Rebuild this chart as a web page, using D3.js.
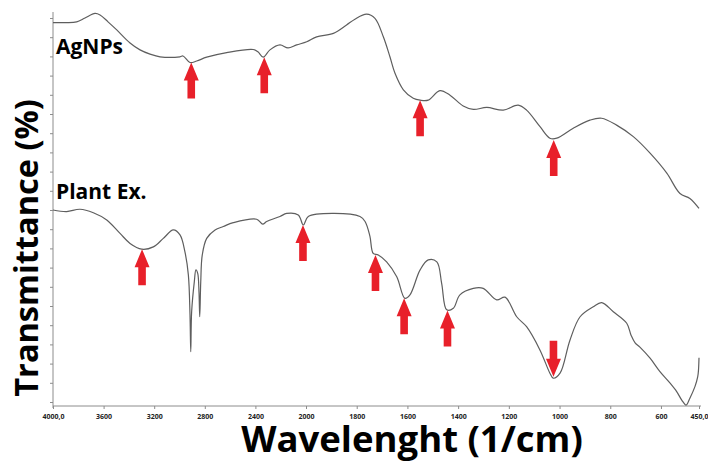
<!DOCTYPE html>
<html>
<head>
<meta charset="utf-8">
<script src="https://cdn.jsdelivr.net/npm/d3@7"></script>
<style>
  html, body { margin: 0; padding: 0; background: #fff; }
  svg { display: block; }
</style>
</head>
<body>
<div id="chart"></div>
<script>
// ---- data (wavenumber in 1/cm, transmittance in arbitrary %) ----
const agWavenumber = [4000,3897,3813,3747,3668,3628,3565,3496,3391,3312,3233,3154,2996,2972,2917,2864,2785,2627,2417,2380,2338,2285,2206,2142,2074,1997,1958,1892,1840,1807,1761,1728,1695,1669,1649,1616,1577,1550,1518,1472,1432,1380,1340,1287,1222,1163,1130,1077,1038,1011,946,880,834,775,709,643,577,525,486,450];
const agTransmittance = [98.8,98.8,99.0,100.0,101.2,100.8,99.0,96.9,93.5,91.7,90.6,89.9,89.9,90.1,88.4,88.8,89.8,91.0,91.8,91.2,89.8,91.7,93.0,92.2,93.0,93.8,95.1,96.0,98.2,99.7,101.0,99.9,95.1,89.9,85.6,81.3,79.1,78.6,78.6,81.1,79.9,77.1,76.2,76.7,76.0,77.3,76.0,71.7,68.7,68.7,71.3,73.4,73.9,72.1,69.1,64.8,59.6,54.3,53.0,50.4];

const plantWavenumber = [4000,3892,3787,3681,3575,3470,3391,3299,3207,3128,3049,2996,2957,2930,2917,2911,2904,2883,2870,2856,2846,2840,2832,2820,2785,2719,2654,2575,2390,2342,2311,2206,2153,2061,2021,1991,1892,1787,1767,1748,1735,1715,1682,1642,1610,1590,1550,1518,1484,1465,1445,1419,1393,1340,1301,1248,1215,1169,1130,1077,1038,1025,998,959,919,867,834,788,735,718,702,683,643,604,564,538,518,501,486,466,455,452,450];
const plantTransmittance = [50.0,49.6,50.2,49.3,47.4,43.9,41.3,39.8,40.4,42.6,44.8,43.5,39.1,33.1,22.7,13.1,23.5,31.3,34.4,33.5,28.7,22.2,31.3,38.3,42.6,44.8,45.7,46.7,47.6,46.3,47.0,48.3,49.1,48.7,46.1,48.3,49.1,48.3,47.0,43.2,38.7,38.3,36.5,32.6,27.0,27.9,34.4,37.0,36.5,30.9,24.0,24.4,27.9,29.6,29.6,26.6,27.3,22.2,19.6,13.5,7.5,6.2,7.5,16.1,22.2,24.8,25.9,23.5,20.5,17.4,15.4,14.3,11.4,7.9,4.9,2.7,0.5,-0.8,1.0,4.0,6.6,8.3,11.5];

// arrows: wavenumber, transmittance at tip, direction
const agArrowWavenumber = [2907, 2330, 1550, 1023];
const agArrowTip = [88.4, 89.8, 78.6, 68.2];
const plantArrowWavenumber = [3296, 2024, 1726, 1613, 1442, 1024];
const plantArrowTip = [39.8, 46.1, 38.3, 27.0, 23.8, 6.6];
const plantArrowDir = ["up", "up", "up", "up", "up", "down"];

const xTickValues = [4000,3600,3200,2800,2400,2000,1800,1600,1400,1200,1000,800,600,450];
const xTickLabels = ["4000,0","3600","3200","2800","2400","2000","1800","1600","1400","1200","1000","800","600","450,0"];
const yTickValues = d3.range(0, 101, 5);

const seriesLabels = ["AgNPs", "Plant Ex."];
const xTitle = "Wavelenght (1/cm)";
const yTitle = "Transmittance (%)";

// ---- drawing ----
const W = 708, H = 462;
const svg = d3.select("#chart").append("svg").attr("width", W).attr("height", H);

// split FTIR scale (compressed above 2000 1/cm)
const x = d3.scaleLinear().domain([4000, 2000, 450]).range([53, 306, 699]);
const y = d3.scaleLinear().domain([0, 100]).range([402, 18]);

const axisColor = "#8c8c8c";
const fontFam = "'Open Sans', 'DejaVu Sans', sans-serif";

// x axis
const xAxis = svg.append("g").attr("transform", "translate(0,406)")
  .call(d3.axisBottom(x).tickValues(xTickValues).tickSize(3).tickSizeOuter(0)
    .tickFormat((d, i) => xTickLabels[i]));
xAxis.select(".domain").attr("d", "M53,0H701").attr("stroke", axisColor);
xAxis.selectAll(".tick line").attr("stroke", axisColor);
xAxis.selectAll(".tick text").attr("y", 8).attr("dy", "0.71em")
  .attr("font-family", fontFam).attr("font-size", 7).attr("font-weight", 700).attr("fill", "#222");

// y axis (no labels)
const yAxis = svg.append("g").attr("transform", "translate(53,0)")
  .call(d3.axisLeft(y).tickValues(yTickValues).tickSize(3).tickSizeOuter(0).tickFormat(""));
yAxis.select(".domain").attr("d", "M0,12V408").attr("stroke", axisColor);
yAxis.selectAll(".tick line").attr("stroke", axisColor);

// curves
const line = d3.line().x(d => x(d[0])).y(d => y(d[1])).curve(d3.curveCatmullRom.alpha(0.5));
const agData = agWavenumber.map((w, i) => [w, agTransmittance[i]]);
const plantData = plantWavenumber.map((w, i) => [w, plantTransmittance[i]]);

svg.append("path").datum(agData).attr("d", line)
  .attr("fill", "none").attr("stroke", "#5e5e5e").attr("stroke-width", 1.2);
svg.append("path").datum(plantData).attr("d", line)
  .attr("fill", "none").attr("stroke", "#5e5e5e").attr("stroke-width", 1.2);

// arrows
function arrowPath(dir) {
  const L = 36, hl = 18, hw = 7.5, sw = 3.8;
  const s = dir === "up" ? 1 : -1;
  return `M0,0 L${hw},${s*hl} L${sw},${s*hl} L${sw},${s*L} L${-sw},${s*L} L${-sw},${s*hl} L${-hw},${s*hl} Z`;
}
const arrows = agArrowWavenumber.map((w, i) => ({w, t: agArrowTip[i], dir: "up"}))
  .concat(plantArrowWavenumber.map((w, i) => ({w, t: plantArrowTip[i], dir: plantArrowDir[i]})));
svg.selectAll("path.arrow").data(arrows).enter().append("path")
  .attr("class", "arrow")
  .attr("transform", d => `translate(${x(d.w)},${y(d.t)})`)
  .attr("d", d => arrowPath(d.dir))
  .attr("fill", "#e8202a");

// series labels
svg.append("text").attr("x", 56).attr("y", 54).text(seriesLabels[0])
  .attr("font-family", fontFam).attr("font-size", 21).attr("font-weight", 700).attr("fill", "#000");
svg.append("text").attr("x", 56).attr("y", 199).text(seriesLabels[1])
  .attr("font-family", fontFam).attr("font-size", 21).attr("font-weight", 700).attr("fill", "#000");

// axis titles
svg.append("text").attr("x", 412).attr("y", 452).attr("text-anchor", "middle").text(xTitle)
  .attr("font-family", fontFam).attr("font-size", 36.5).attr("font-weight", 700).attr("fill", "#000");
svg.append("text").attr("transform", "translate(38,248) rotate(-90)").attr("text-anchor", "middle").text(yTitle)
  .attr("font-family", fontFam).attr("font-size", 32.5).attr("font-weight", 700).attr("fill", "#000");
</script>
</body>
</html>
